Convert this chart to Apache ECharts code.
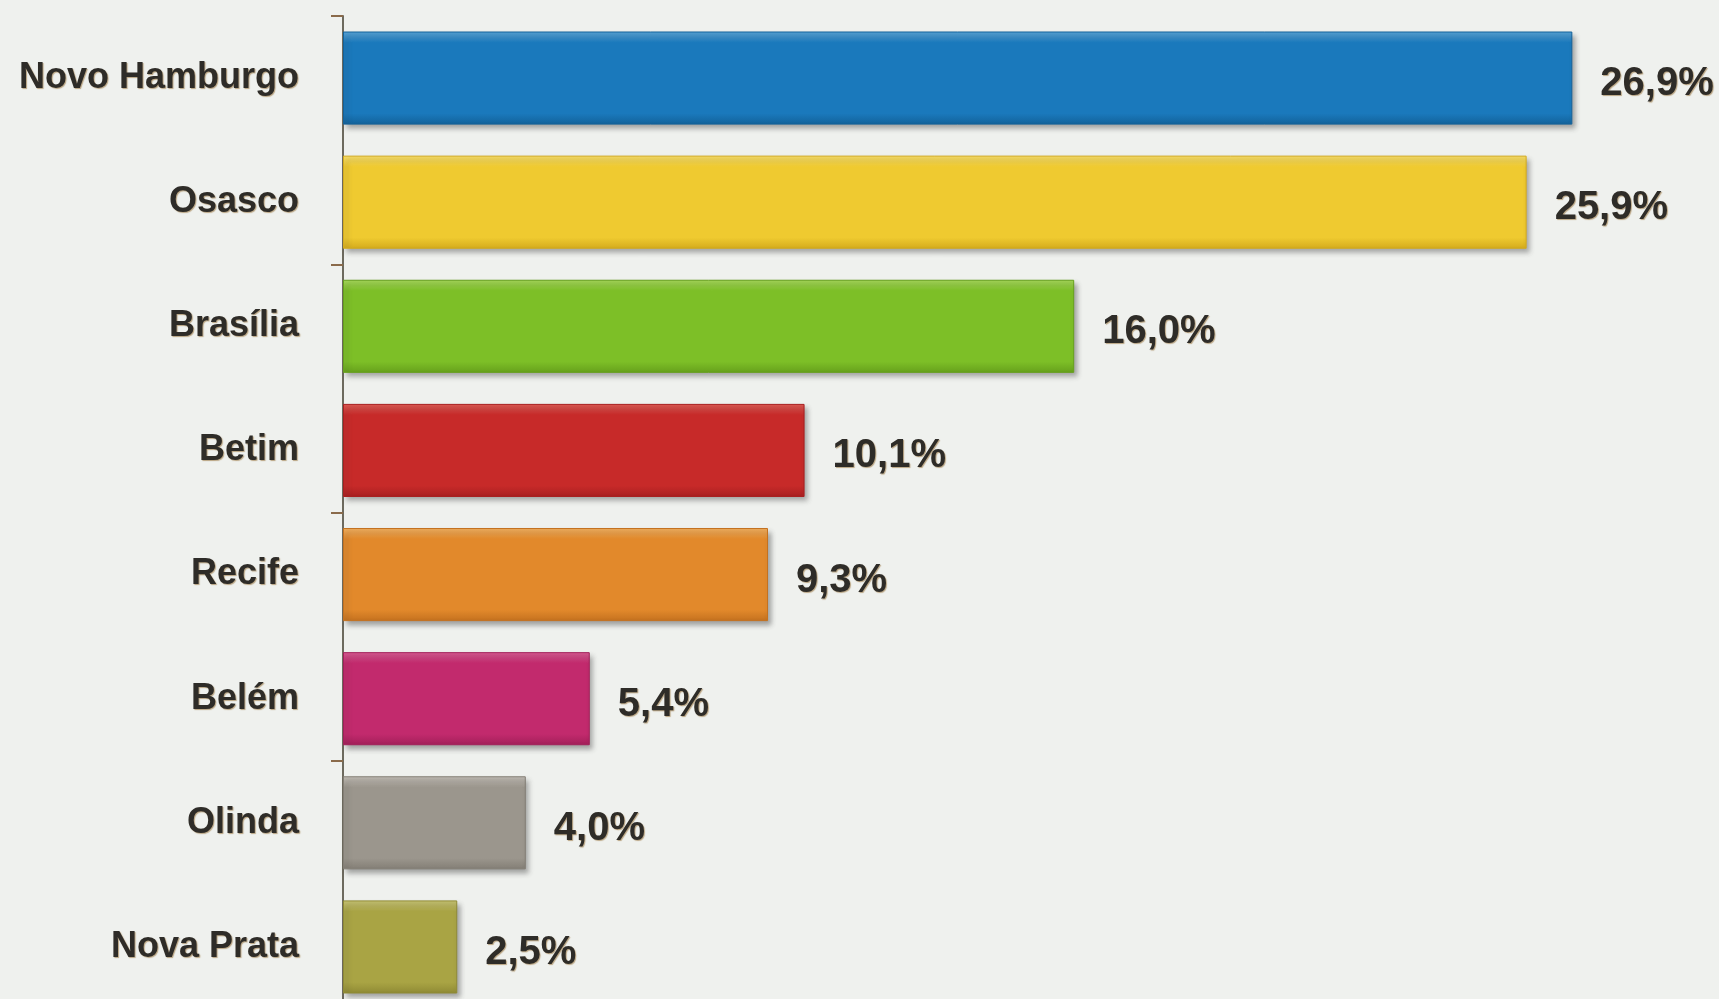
<!DOCTYPE html>
<html>
<head>
<meta charset="utf-8">
<title>Cidades</title>
<script src="https://cdn.jsdelivr.net/npm/echarts@6/dist/echarts.min.js"></script>
<style>
  html, body { margin: 0; padding: 0; background: #eff1ee; }
  #chart { width: 1719px; height: 999px; }
</style>
</head>
<body>
<div id="chart"></div>
<script>
// Cities and their share (%)
const cities = ['Novo Hamburgo', 'Osasco', 'Brasília', 'Betim', 'Recife', 'Belém', 'Olinda', 'Nova Prata'];
const shares = [26.9, 25.9, 16.0, 10.1, 9.3, 5.4, 4.0, 2.5];
// One colour per bar: [highlight, base, shade]
const barColors = [
  ['#58a4d8', '#1a79bc', '#13629a'],
  ['#f8de6a', '#efca30', '#d4ab1c'],
  ['#a6d85a', '#7dbf27', '#66a01c'],
  ['#de5a52', '#c72a29', '#a81f20'],
  ['#f2b060', '#e2892b', '#c4711f'],
  ['#d85a92', '#c22a6d', '#a21f59'],
  ['#c2beb6', '#9b968d', '#837e75'],
  ['#c8c474', '#a9a444', '#8f8a34']
];

const chart = echarts.init(document.getElementById('chart'));

const fmt = v => v.toFixed(1).replace('.', ',') + '%';

chart.setOption({
  backgroundColor: '#eff1ee',
  animation: false,
  grid: {
    left: 343, top: 16, width: 1371, height: 993,
    containLabel: false,
    outerBoundsMode: 'none'
  },
  xAxis: {
    type: 'value', min: 0, max: 30, show: false,
    splitLine: { show: false }
  },
  yAxis: {
    type: 'category',
    data: cities,
    inverse: true,
    axisLine: { show: true, lineStyle: { color: '#6d6a5e', width: 2 } },
    axisTick: { show: true, interval: 1, length: 12, lineStyle: { color: '#8a6a4a', width: 2 } },
    axisLabel: {
      margin: 44,
      color: '#2e2c28',
      fontFamily: 'Liberation Sans, Arial, sans-serif',
      fontWeight: 'bold',
      fontSize: 36,
      textShadowColor: 'rgba(140,100,40,0.55)',
      textShadowOffsetX: 1,
      textShadowOffsetY: 1,
      textShadowBlur: 1
    }
  },
  series: [{
    type: 'bar',
    barCategoryGap: '25%',
    data: shares.map((v, i) => ({
      value: v,
      itemStyle: {
        color: new echarts.graphic.LinearGradient(0, 0, 0, 1, [
          { offset: 0, color: barColors[i][0] },
          { offset: 0.12, color: barColors[i][1] },
          { offset: 0.88, color: barColors[i][1] },
          { offset: 1, color: barColors[i][2] }
        ]),
        borderColor: barColors[i][2],
        borderWidth: 1,
        shadowColor: 'rgba(60,60,60,0.45)',
        shadowBlur: 5,
        shadowOffsetX: 3,
        shadowOffsetY: 4
      }
    })),
    label: {
      show: true,
      position: 'right',
      distance: 28,
      offset: [0, 6],
      formatter: p => fmt(p.value),
      color: '#2e2c28',
      fontFamily: 'Liberation Sans, Arial, sans-serif',
      fontWeight: 'bold',
      fontSize: 40,
      textShadowColor: 'rgba(140,100,40,0.55)',
      textShadowOffsetX: 1,
      textShadowOffsetY: 1,
      textShadowBlur: 1
    }
  }]
});
</script>
</body>
</html>
